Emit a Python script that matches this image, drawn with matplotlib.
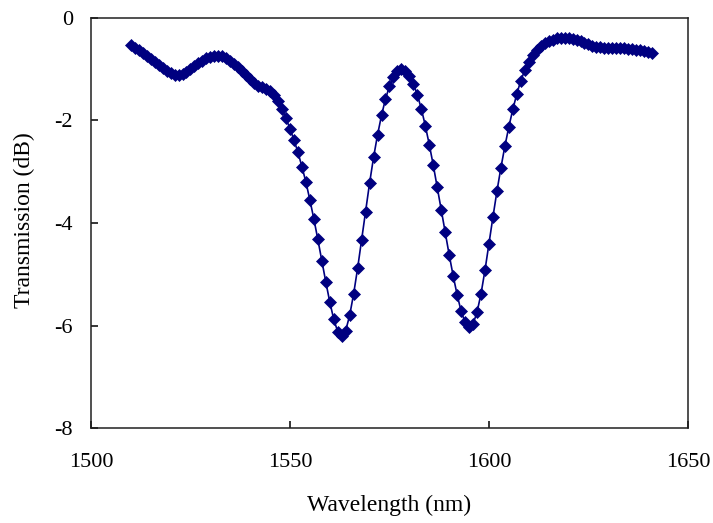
import numpy as np
import matplotlib
matplotlib.use("Agg")
import matplotlib.pyplot as plt

# measured transmission spectrum, 1 nm steps
wavelength = np.arange(1510, 1642)
transmission = [
    -0.52, -0.58, -0.63, -0.69, -0.75, -0.80, -0.86, -0.92, -0.98, -1.04,   # 1510-1519
    -1.08, -1.11, -1.12, -1.10, -1.06, -1.00, -0.94, -0.88, -0.83, -0.79,   # 1520-1529
    -0.76, -0.74, -0.74, -0.75, -0.78, -0.83, -0.89, -0.96, -1.04, -1.12,   # 1530-1539
    -1.20, -1.27, -1.32, -1.35, -1.38, -1.42, -1.50, -1.62, -1.78, -1.96,   # 1540-1549
    -2.16, -2.38, -2.62, -2.90, -3.20, -3.55, -3.92, -4.32, -4.74, -5.15,   # 1550-1559
    -5.54, -5.88, -6.12, -6.20, -6.10, -5.80, -5.38, -4.88, -4.33, -3.78,   # 1560-1569
    -3.22, -2.72, -2.28, -1.90, -1.58, -1.33, -1.15, -1.04, -1.00, -1.03,   # 1570-1579
    -1.13, -1.28, -1.50, -1.77, -2.10, -2.47, -2.87, -3.30, -3.74, -4.18,   # 1580-1589
    -4.62, -5.03, -5.40, -5.72, -5.94, -6.03, -5.97, -5.74, -5.38, -4.92,   # 1590-1599
    -4.40, -3.88, -3.38, -2.92, -2.50, -2.12, -1.78, -1.48, -1.22, -1.02,   # 1600-1609
    -0.86, -0.73, -0.63, -0.55, -0.49, -0.45, -0.42, -0.40, -0.39, -0.39,   # 1610-1619
    -0.40, -0.41, -0.43, -0.45, -0.48, -0.51, -0.54, -0.56, -0.57, -0.58,   # 1620-1629
    -0.58, -0.58, -0.58, -0.58, -0.59, -0.60, -0.61, -0.62, -0.63, -0.64,   # 1630-1639
    -0.66, -0.68,                                                           # 1640-1641
]

x_ticks = [1500, 1550, 1600, 1650]
y_ticks = [-8, -6, -4, -2, 0]

plt.rcParams['font.family'] = ['Liberation Serif', 'DejaVu Serif']
plt.rcParams['axes.unicode_minus'] = False

fig = plt.figure(figsize=(7.13, 5.23), dpi=100)
ax = fig.add_axes([0.1276, 0.1816, 0.8373, 0.784])

ax.plot(wavelength, transmission, color='#000080', linewidth=1.2,
        marker='D', markersize=6, markeredgewidth=0.5)

ax.set_xlim(1500, 1650)
ax.set_ylim(-8, 0)
ax.set_xticks(x_ticks)
ax.set_yticks(y_ticks)

ax.tick_params(direction='in', length=5, width=1.1, labelsize=16)
ax.tick_params(axis='x', pad=18)
ax.tick_params(axis='y', pad=13)
for spine in ax.spines.values():
    spine.set_linewidth(1.1)
    spine.set_color('#202020')

ax.set_xlabel("Wavelength (nm)", fontsize=17)
ax.set_ylabel("Transmission (dB)", fontsize=17)
ax.xaxis.set_label_coords(0.5, -0.188)
ax.xaxis.label.set_va('center')
ax.yaxis.set_label_coords(-0.111, 0.507)
ax.yaxis.label.set_va('center')

fig.savefig("out.png", dpi=100)
